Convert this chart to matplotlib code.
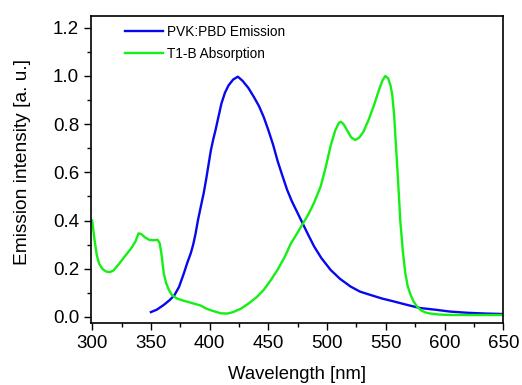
import matplotlib
matplotlib.use("Agg")
import matplotlib.pyplot as plt
from matplotlib.ticker import MultipleLocator, FormatStrFormatter

plt.rcParams['font.family'] = ['Liberation Sans', 'DejaVu Sans']

# PVK:PBD emission
em_wl = [350, 355, 361, 366, 370, 374, 378, 381, 384, 386, 388, 390, 392.5,
         395, 397, 399, 401, 403, 405, 407.5, 410, 413, 416, 420, 424, 428,
         433, 438, 442, 446, 450, 454, 458, 462, 466, 470, 474, 479, 484, 489,
         495, 503, 511, 520, 528, 537, 547, 557, 568, 579, 592, 605, 620, 635, 650]
em_val = [0.02, 0.03, 0.05, 0.07, 0.09, 0.125, 0.18, 0.225, 0.265, 0.30,
          0.345, 0.40, 0.458, 0.515, 0.57, 0.63, 0.69, 0.735, 0.775, 0.83,
          0.885, 0.93, 0.96, 0.985, 0.997, 0.98, 0.95, 0.91, 0.875, 0.83,
          0.775, 0.715, 0.645, 0.585, 0.527, 0.48, 0.44, 0.39, 0.34, 0.292,
          0.245, 0.195, 0.158, 0.126, 0.105, 0.091, 0.076, 0.064, 0.05, 0.037,
          0.03, 0.022, 0.017, 0.014, 0.012]

# T1-B absorption
ab_wl = [300, 302, 304, 306, 309, 312, 315, 318, 322, 326, 330, 334, 337,
         339.5, 342, 345, 348.5, 352, 355.8, 357.5, 359, 361, 363, 365.5, 368,
         372.5, 378, 384, 389, 392.5, 397, 402, 409.5, 415, 420, 426.5, 433,
         440, 446, 452, 458, 464, 469, 474, 479, 484, 489, 494.5, 499, 503,
         507, 510, 511.8, 514, 517, 520.5, 524, 527.5, 531, 535.5, 540, 544,
         547, 549.5, 552, 554, 555.5, 557, 558.5, 560, 562.3, 564.5, 566.6,
         568.5, 570.8, 573.5, 576.5, 580, 584, 588, 595, 605, 620, 635, 650]
ab_val = [0.40, 0.32, 0.255, 0.22, 0.198, 0.188, 0.186, 0.192, 0.215, 0.24,
          0.265, 0.29, 0.315, 0.347, 0.343, 0.33, 0.32, 0.318, 0.32, 0.305,
          0.26, 0.18, 0.14, 0.11, 0.09, 0.076, 0.067, 0.059, 0.052, 0.047,
          0.035, 0.026, 0.015, 0.014, 0.02, 0.034, 0.055, 0.082, 0.112, 0.152,
          0.197, 0.25, 0.303, 0.343, 0.384, 0.425, 0.475, 0.541, 0.625, 0.71,
          0.775, 0.805, 0.81, 0.8, 0.775, 0.745, 0.734, 0.745, 0.769, 0.82,
          0.88, 0.94, 0.98, 1.0, 0.99, 0.96, 0.92, 0.84, 0.72, 0.6, 0.40,
          0.27, 0.181, 0.13, 0.095, 0.065, 0.043, 0.027, 0.018, 0.014, 0.01,
          0.008, 0.008, 0.008, 0.008]

fig = plt.figure(figsize=(5.22, 3.85), dpi=100)
ax = fig.add_axes([0.1743, 0.1618, 0.7899, 0.7974])

ax.plot(em_wl, em_val, color='#0808f0', lw=1.7, label='PVK:PBD Emission')
ax.plot(ab_wl, ab_val, color='#14f014', lw=1.7, label='T1-B Absorption')

ax.set_xlim(299, 650)
ax.set_ylim(-0.024, 1.25)
ax.xaxis.set_major_locator(MultipleLocator(50))
ax.xaxis.set_minor_locator(MultipleLocator(25))
ax.yaxis.set_major_locator(MultipleLocator(0.2))
ax.yaxis.set_minor_locator(MultipleLocator(0.1))
ax.yaxis.set_major_formatter(FormatStrFormatter('%.1f'))
ax.tick_params(which='major', direction='out', length=5, width=1, labelsize=13.5, pad=3.5)
ax.tick_params(which='minor', direction='out', length=3, width=1)
for s in ax.spines.values():
    s.set_linewidth(1.2)

ax.set_xlabel('Wavelength [nm]', fontsize=13.3, labelpad=10.5)
ax.set_ylabel('Emission intensity [a. u.]', fontsize=13.8)
ax.yaxis.set_label_coords(-0.145, 0.525)

leg = ax.legend(loc='upper left', frameon=False, fontsize=9.8, handlelength=2.8,
                handletextpad=0.3, labelspacing=0.55, borderaxespad=0.3,
                bbox_to_anchor=(0.06, 1.0))

fig.savefig('out.png', dpi=100)
